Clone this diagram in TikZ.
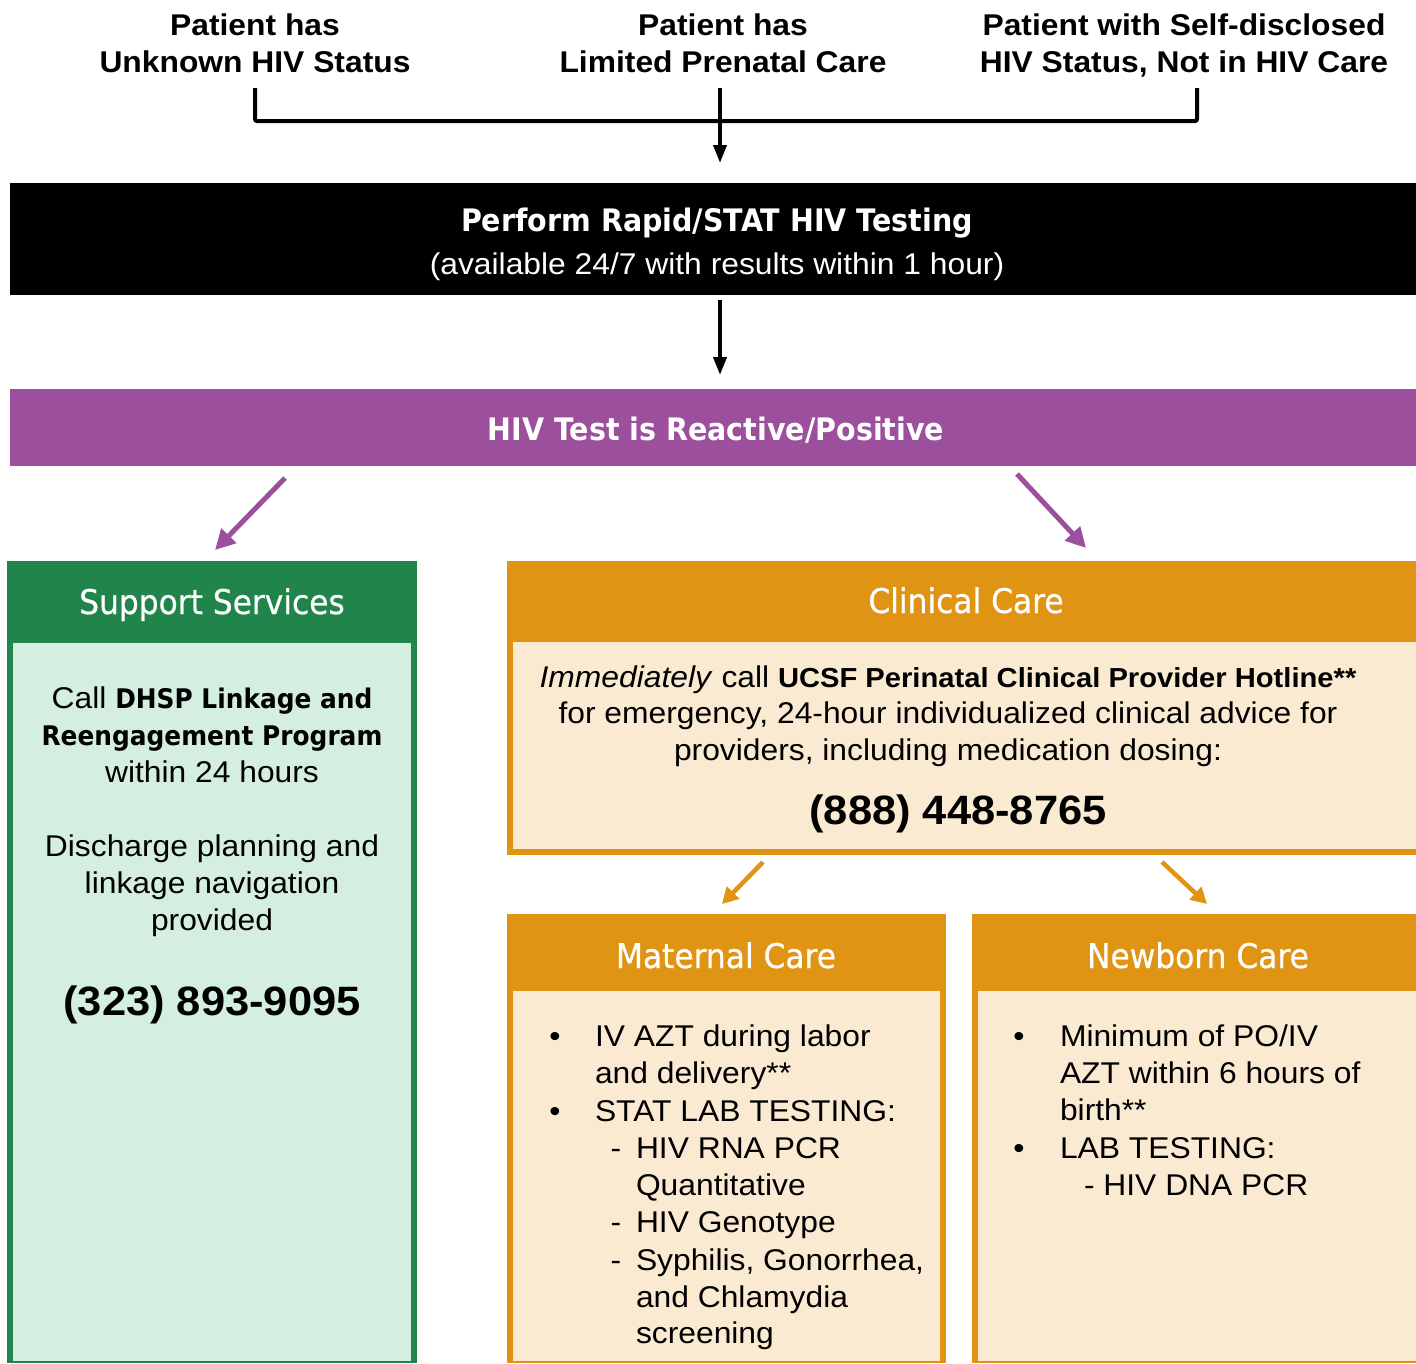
\documentclass[tikz,border=0pt]{standalone}
\usepackage{fontspec}
\setmainfont{Liberation Sans}[FakeStretch=1.06]
\newfontfamily\hf{DejaVu Sans}[FakeStretch=0.92]
\newfontfamily\hfm{DejaVu Sans}[FakeStretch=0.92, FakeBold=0.6]
\usetikzlibrary{arrows.meta}
\definecolor{grn}{HTML}{21844B}
\definecolor{pgrn}{HTML}{D4EEDF}
\definecolor{org}{HTML}{E09414}
\definecolor{crm}{HTML}{FAEAD2}
\definecolor{prp}{HTML}{9B4F9C}
\newcommand\fsz[1]{\fontsize{#1}{#1}\selectfont}
\begin{document}
\begin{tikzpicture}[x=1pt,y=-1pt,
  rect/.style={inner sep=0, outer sep=0, anchor=north west, draw=none},
  lbl/.style={inner sep=0, outer sep=0, anchor=base, font=\fsz{30}},
  lblw/.style={lbl, anchor=base west},
  toplbl/.style={lbl, font=\fsz{30}\bfseries},
  ttl/.style={lbl, text=white, font=\hf\fsz{31}\bfseries},
  hdr/.style={lbl, text=white, font=\hfm\fsz{34}},
  phone/.style={lbl, font=\fsz{41}\bfseries},
  brk/.style={line width=4pt, rounded corners=2pt},
  arr/.style={line width=4pt, -{Triangle[length=18pt,width=13pt]}},
  parr/.style={prp, line width=5pt, -{Triangle[length=20pt,width=20pt]}},
  oarr/.style={org, line width=4.5pt, -{Triangle[length=16pt,width=17pt]}}]
\useasboundingbox (0,0) rectangle (1416,1363);

% top labels
\node[toplbl] (t1a) at (255,35) {Patient has};
\node[toplbl] (t1b) at (255,72) {Unknown HIV Status};
\node[toplbl] (t2a) at (723,35) {Patient has};
\node[toplbl] (t2b) at (723,72) {Limited Prenatal Care};
\node[toplbl] (t3a) at (1184,35) {Patient with Self-disclosed};
\node[toplbl] (t3b) at (1184,72) {HIV Status, Not in HIV Care};

% boxes
\node[rect, fill=black, minimum width=1406, minimum height=112] (box1) at (10,183) {};
\node[rect, fill=prp, minimum width=1406, minimum height=77] (box2) at (10,389) {};

\node[rect, fill=grn, minimum width=410, minimum height=802] (sup) at (7,561) {};
\node[rect, fill=pgrn, minimum width=398, minimum height=718] (supb) at (13,643) {};

\node[rect, fill=org, minimum width=909, minimum height=294] (cli) at (507,561) {};
\node[rect, fill=crm, minimum width=903, minimum height=207] (clib) at (513,642) {};

\node[rect, fill=org, minimum width=439, minimum height=449] (mat) at (507,914) {};
\node[rect, fill=crm, minimum width=427, minimum height=370] (matb) at (513,991) {};

\node[rect, fill=org, minimum width=444, minimum height=449] (nb) at (972,914) {};
\node[rect, fill=crm, minimum width=438, minimum height=370] (nbb) at (978,991) {};

% bracket and arrows
\coordinate (bl) at (t1b.south |- 0,88);
\coordinate (br) at (1197,88);
\coordinate (jn) at (720,121);
\coordinate (m1) at (720,88);
\draw[brk] (bl) |- (jn) -| (br);
\draw[arr, shorten >=20pt] (m1) -- (box1.north -| m1);
\draw[arr, shorten <=5pt, shorten >=14pt] (box1.south -| m1) -- (box2.north -| m1);

\coordinate (pa1) at (285,478);
\coordinate (pa2) at (215,550);
\coordinate (pb1) at (1017,474);
\coordinate (pb2) at (1086,548);
\draw[parr] (pa1) -- (pa2);
\draw[parr] (pb1) -- (pb2);

\coordinate (oa1) at (763,862);
\coordinate (oa2) at (722,904);
\coordinate (ob1) at (1162,862);
\coordinate (ob2) at (1207,904);
\draw[oarr] (oa1) -- (oa2);
\draw[oarr] (ob1) -- (ob2);

% black box text
\node[ttl] (b1t) at (717,231) {Perform Rapid/STAT HIV Testing};
\node[lbl, text=white] (b1s) at (717,274) {(available 24/7 with results within 1 hour)};
% purple text
\node[ttl] (b2t) at (716,440) {HIV Test is Reactive/Positive};

% support services
\node[hdr] (suph) at (212,614) {Support Services};
\node[lbl] (s1) at (212,708) {Call {\hf\fsz{27}\bfseries DHSP Linkage and}};
\node[lbl, font=\hf\fsz{27}\bfseries] (s2) at (212,745) {Reengagement Program};
\node[lbl] (s3) at (212,782) {within 24 hours};
\node[lbl] (s4) at (212,856) {Discharge planning and};
\node[lbl] (s5) at (212,893) {linkage navigation};
\node[lbl] (s6) at (212,930) {provided};
\node[phone] (s7) at (212,1015) {(323) 893-9095};

% clinical care
\node[hdr] (clih) at (966,613) {Clinical Care};
\node[lbl] (c1) at (948,687) {\textit{Immediately} call {\fsz{27.5}\bfseries UCSF Perinatal Clinical Provider Hotline**}};
\node[lbl] (c2) at (948,723) {for emergency, 24-hour individualized clinical advice for};
\node[lbl] (c3) at (948,760) {providers, including medication dosing:};
\node[phone] (c4) at (958,824) {(888) 448-8765};

% maternal care
\node[hdr] (math) at (726,968) {Maternal Care};
\node[lbl] (mb1) at (555,1046) {•};
\node[lblw] (m1t) at (595,1046) {IV AZT during labor};
\node[lblw] (m2t) at (595,1083) {and delivery**};
\node[lbl] (mb2) at (555,1121) {•};
\node[lblw] (m3t) at (595,1121) {STAT LAB TESTING:};
\node[lbl] (md1) at (616,1158) {-};
\node[lblw] (m4t) at (636,1158) {HIV RNA PCR};
\node[lblw] (m5t) at (636,1195) {Quantitative};
\node[lbl] (md2) at (616,1232) {-};
\node[lblw] (m6t) at (636,1232) {HIV Genotype};
\node[lbl] (md3) at (616,1270) {-};
\node[lblw] (m7t) at (636,1270) {Syphilis, Gonorrhea,};
\node[lblw] (m8t) at (636,1307) {and Chlamydia};
\node[lblw] (m9t) at (636,1343) {screening};

% newborn care
\node[hdr] (nbh) at (1198,968) {Newborn Care};
\node[lbl] (nb1) at (1019,1046) {•};
\node[lblw] (n1t) at (1060,1046) {Minimum of PO/IV};
\node[lblw] (n2t) at (1060,1083) {AZT within 6 hours of};
\node[lblw] (n3t) at (1060,1120) {birth**};
\node[lbl] (nb2) at (1019,1158) {•};
\node[lblw] (n4t) at (1060,1158) {LAB TESTING:};
\node[lblw] (n5t) at (1084,1195) {- HIV DNA PCR};
\end{tikzpicture}
\end{document}
